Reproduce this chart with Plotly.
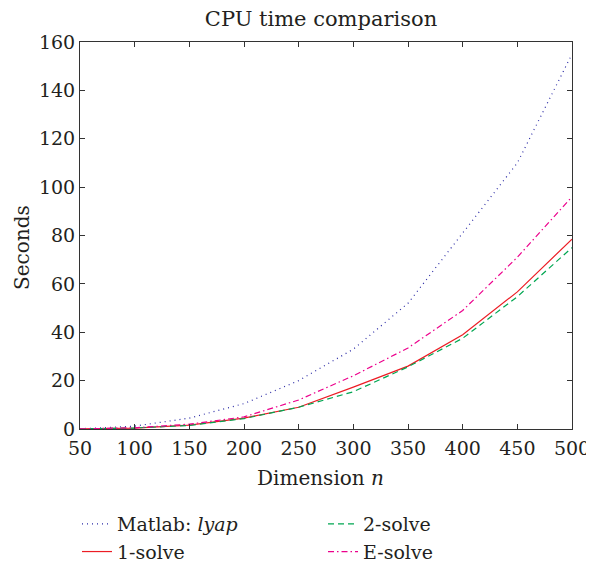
import plotly.graph_objects as go

dims = [50, 100, 150, 200, 250, 300, 350, 400, 450, 500]
lyap = [0.1, 1.2, 4.5, 10.5, 20, 33, 52, 81, 110, 155]
one_solve = [0.05, 0.4, 1.6, 4.5, 9, 17.3, 26, 39, 56.7, 78.5]
two_solve = [0.05, 0.4, 1.5, 4.3, 9, 15.4, 25.7, 37.5, 54.7, 75]
e_solve = [0.05, 0.5, 2, 5, 12, 22, 33.5, 49, 71, 96]

names = ["Matlab: <i>lyap</i>", "1-solve", "2-solve", "E-solve"]
series = [lyap, one_solve, two_solve, e_solve]
colors = ["#2b2ba6", "#ec1c24", "#00a651", "#ec008c"]
dashes = ["1px,4px", "solid", "6px,4px", "6px,3px,1.5px,3px"]
ranks = [1, 3, 2, 4]

font = "DejaVu Serif"
txt = "#231f20"
OFF = 8  # page body margin
W, H = 594 - OFF, 562 - OFF
# target pixel positions in the 594x562 screenshot
L, R, T, B = 80 - OFF, 22, 42 - OFF, 133
pw, ph = W - L - R, H - T - B


def px(x):
    return (x - OFF - L) / pw


def py(y):
    return (H - B - (y - OFF)) / ph


fig = go.Figure()
for n, s, c, d, r in zip(names, series, colors, dashes, ranks):
    fig.add_trace(go.Scatter(x=dims, y=s, mode="lines", name=n,
                             line=dict(color=c, dash=d, width=1.2),
                             legendrank=r))

axcommon = dict(showgrid=False, zeroline=False, showline=True, linecolor="#333",
                linewidth=1, mirror="ticks", ticks="inside", ticklen=5,
                tickcolor="#333", automargin=False,
                tickfont=dict(size=19, family=font, color=txt))
fig.update_xaxes(range=[50, 500], tickvals=dims, ticklabelstandoff=2, **axcommon)
fig.update_yaxes(range=[0, 160], tickvals=list(range(0, 161, 20)), **axcommon)

fig.add_annotation(text="Dimension <i>n</i>", xref="paper", yref="paper",
                   x=px(320), y=py(478), showarrow=False,
                   xanchor="center", yanchor="middle",
                   font=dict(size=20, family=font, color=txt))
fig.add_annotation(text="Seconds", xref="paper", yref="paper", textangle=-90,
                   x=px(22), y=py(248), showarrow=False,
                   xanchor="center", yanchor="middle",
                   font=dict(size=20, family=font, color=txt))

fig.update_layout(
    width=W, height=H,
    margin=dict(l=L, r=R, t=T, b=B, autoexpand=False),
    plot_bgcolor="white", paper_bgcolor="white",
    title=dict(text="CPU time comparison", x=(321 - OFF) / W, xanchor="center",
               y=1 - (19 - OFF) / H, yanchor="middle",
               font=dict(size=21, family=font, color=txt)),
    legend=dict(orientation="h", x=px(77), xanchor="left", y=py(505),
                yanchor="top", entrywidth=201, traceorder="normal",
                font=dict(size=19, family=font, color=txt), tracegroupgap=0,
                bgcolor="rgba(0,0,0,0)"),
    showlegend=True,
)
fig.write_html("out.html")
